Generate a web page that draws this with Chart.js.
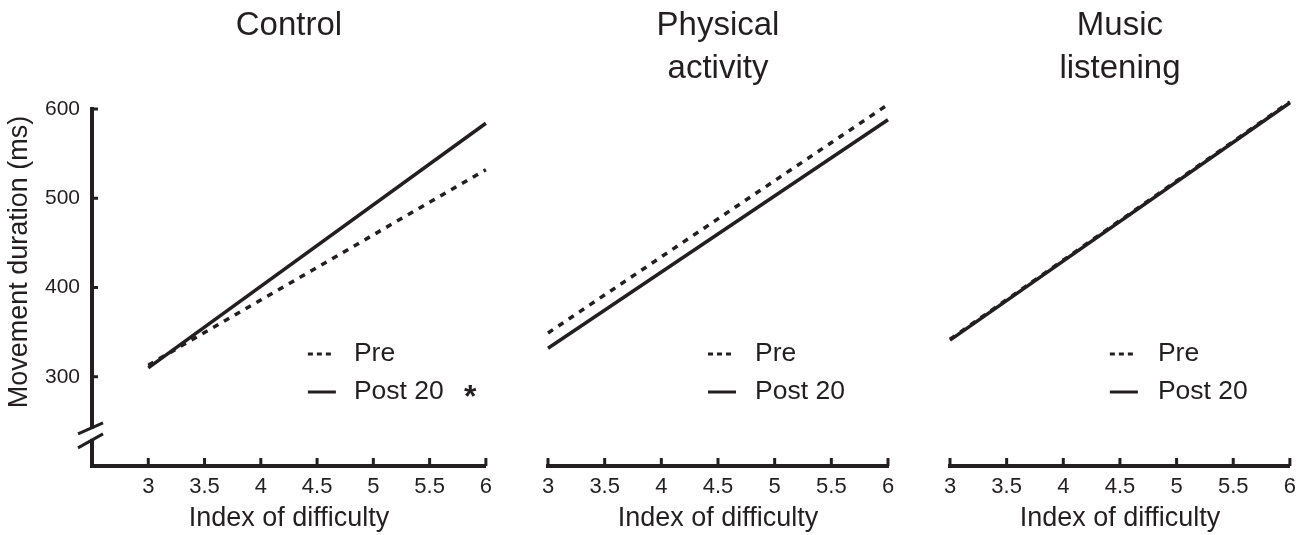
<!DOCTYPE html>
<html>
<head>
<meta charset="utf-8">
<script src="https://cdn.jsdelivr.net/npm/chart.js@4.4.1/dist/chart.umd.min.js"></script>
<style>
  body { margin: 0; background: #fff; width: 1304px; height: 535px; overflow: hidden; position: relative; }
  .panel { position: absolute; top: 0; height: 535px; }
</style>
</head>
<body>
<div class="panel" style="left:0"><canvas id="c1" width="500" height="535"></canvas></div>
<div class="panel" style="left:500px"><canvas id="c2" width="410" height="535"></canvas></div>
<div class="panel" style="left:910px"><canvas id="c3" width="394" height="535"></canvas></div>
<script>
// Movement duration vs index of difficulty, three groups

var INK = '#231f20';
var FONT = '"Liberation Sans", Arial, Helvetica, sans-serif';

var idLevels = [3, 6];
var xTicks = [3, 3.5, 4, 4.5, 5, 5.5, 6];
var yTicks = [300, 400, 500, 600];
var seriesNames = ['Pre', 'Post 20'];

var controlPre = [313, 532];
var controlPost = [310, 584];
var physicalPre = [349, 605];
var physicalPost = [332, 588];
var musicPre = [342, 608];
var musicPost = [341, 607];

var panelTitles = [['Control'], ['Physical', 'activity'], ['Music', 'listening']];

function points(vals) {
  return idLevels.map(function (x, i) { return { x: x, y: vals[i] }; });
}

// titles, inward ticks, axis break, legend
var decor = {
  id: 'decor',
  afterDraw: function (chart, args, o) {
    var ctx = chart.ctx, a = chart.chartArea;
    var xs = chart.scales.x, ys = chart.scales.y;
    ctx.save();
    ctx.fillStyle = INK;
    ctx.strokeStyle = INK;

    // panel title
    ctx.font = '33px ' + FONT;
    ctx.textAlign = 'center';
    ctx.textBaseline = 'middle';
    var cx = (a.left + a.right) / 2;
    o.title.forEach(function (t, i) { ctx.fillText(t, cx, 26 + i * 43); });

    // x tick marks pointing up
    ctx.lineWidth = 3;
    ctx.lineCap = 'butt';
    xTicks.forEach(function (v) {
      var px = xs.getPixelForValue(v);
      ctx.beginPath(); ctx.moveTo(px, a.bottom); ctx.lineTo(px, a.bottom - 8); ctx.stroke();
    });

    if (o.yAxis) {
      yTicks.forEach(function (v) {
        var py = ys.getPixelForValue(v);
        ctx.beginPath(); ctx.moveTo(a.left, py); ctx.lineTo(a.left + 6, py); ctx.stroke();
      });
      // axis break
      var yb = ys.getPixelForValue(236);
      ctx.fillStyle = '#fff';
      ctx.fillRect(a.left - 4, yb - 5, 8, 10);
      ctx.lineWidth = 3;
      ctx.beginPath();
      ctx.moveTo(a.left - 14, yb - 0); ctx.lineTo(a.left + 11, yb - 11);
      ctx.moveTo(a.left - 14, yb + 14); ctx.lineTo(a.left + 11, yb + 0);
      ctx.stroke();
      ctx.fillStyle = INK;
      // y title
      ctx.save();
      ctx.translate(27, 262);
      ctx.rotate(-Math.PI / 2);
      ctx.font = '27px ' + FONT;
      ctx.textBaseline = 'alphabetic';
      ctx.fillText('Movement duration (ms)', 0, 0);
      ctx.restore();
    }

    // legend
    ctx.font = '26.5px ' + FONT;
    ctx.textAlign = 'left';
    ctx.textBaseline = 'middle';
    chart.data.datasets.forEach(function (ds, i) {
      var y = a.top + o.legendTop + i * 38;
      var x0 = a.right - o.sampleOff;
      var dashed = ds.borderDash.length > 0;
      ctx.lineWidth = 3;
      ctx.setLineDash(dashed ? [5, 4] : []);
      ctx.beginPath(); ctx.moveTo(x0, y); ctx.lineTo(x0 + (dashed ? 24 : 28), y); ctx.stroke();
      ctx.setLineDash([]);
      ctx.fillText(ds.label, a.right - o.textOff, y);
    });
    if (o.star) {
      ctx.font = 'bold 32px ' + FONT;
      ctx.fillText('*', a.right - 22, a.top + o.legendTop + 38 + 6);
    }
    ctx.restore();
  }
};

function makePanel(id, pre, post, opts) {
  var ctx = document.getElementById(id).getContext('2d');
  return new Chart(ctx, {
    type: 'line',
    data: {
      datasets: [
        { label: seriesNames[0], data: points(pre), borderColor: INK, borderWidth: 3.5, borderDash: [6, 6.5], pointRadius: 0, clip: false },
        { label: seriesNames[1], data: points(post), borderColor: INK, borderWidth: 3.5, borderDash: [], pointRadius: 0, clip: false }
      ]
    },
    options: {
      responsive: false,
      animation: false,
      layout: { padding: { left: opts.padLeft, right: opts.padRight, top: 109, bottom: 0 } },
      plugins: {
        legend: { display: false },
        tooltip: { enabled: false },
        decor: opts.decor
      },
      scales: {
        x: {
          type: 'linear',
          min: opts.xMin, max: 6,
          afterBuildTicks: function (s) { s.ticks = xTicks.map(function (v) { return { value: v }; }); },
          afterFit: function (s) { s.height = 69; },
          grid: { display: false, drawTicks: false },
          border: { display: true, color: INK, width: 4 },
          ticks: {
            color: INK, font: { family: FONT, size: 22 }, padding: 8, maxRotation: 0, autoSkip: false,
            callback: function (v) { return String(v); }
          },
          title: { display: true, text: 'Index of difficulty', color: INK, font: { family: FONT, size: 27 }, padding: { top: 0, bottom: 0 } }
        },
        y: {
          display: opts.decor.yAxis,
          min: 200, max: 600,
          afterBuildTicks: function (s) { s.ticks = yTicks.map(function (v) { return { value: v }; }); },
          afterFit: function (s) { if (opts.decor.yAxis) s.width = 92; else s.width = 0; },
          grid: { display: false, drawTicks: false },
          border: { display: true, color: INK, width: 4 },
          ticks: { color: INK, font: { family: FONT, size: 21 }, padding: 12 }
        }
      }
    },
    plugins: [decor]
  });
}

makePanel('c1', controlPre, controlPost, {
  padLeft: 0, padRight: 14, xMin: 2.5,
  decor: { title: panelTitles[0], yAxis: true, star: true, legendTop: 245, sampleOff: 178, textOff: 132 }
});
makePanel('c2', physicalPre, physicalPost, {
  padLeft: 48, padRight: 22, xMin: 3,
  decor: { title: panelTitles[1], yAxis: false, star: false, legendTop: 245, sampleOff: 180, textOff: 133 }
});
makePanel('c3', musicPre, musicPost, {
  padLeft: 40, padRight: 14, xMin: 3,
  decor: { title: panelTitles[2], yAxis: false, star: false, legendTop: 245, sampleOff: 180, textOff: 132 }
});
</script>
</body>
</html>
